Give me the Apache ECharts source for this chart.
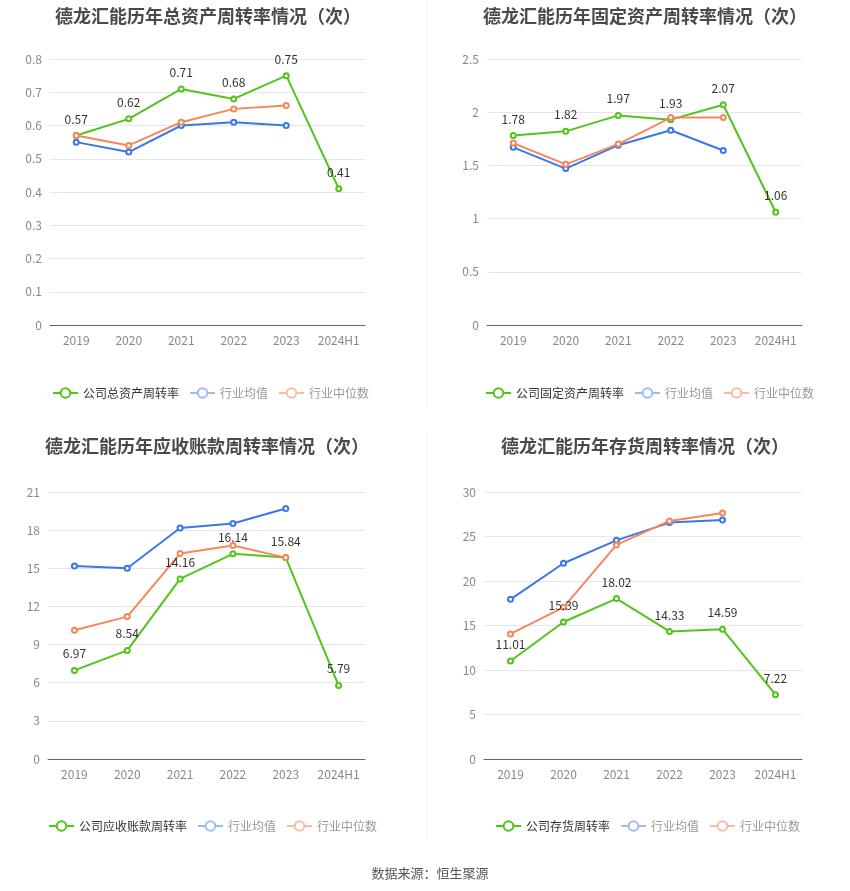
<!DOCTYPE html>
<html>
<head>
<meta charset="utf-8">
<script src="https://cdn.jsdelivr.net/npm/echarts@6/dist/echarts.min.js"></script>
<style>
  html, body { margin: 0; padding: 0; background: #fff; }
  #chart { width: 850px; height: 891px; }
</style>
</head>
<body>
<div id="chart"></div>
<script>
let years = ['2019', '2020', '2021', '2022', '2023', '2024H1']

// 总资产周转率
let totalAsset = [0.57, 0.62, 0.71, 0.68, 0.75, 0.41]
let totalAssetAvg = [0.55, 0.52, 0.60, 0.61, 0.60]
let totalAssetMed = [0.57, 0.54, 0.61, 0.65, 0.66]

// 固定资产周转率
let fixedAsset = [1.78, 1.82, 1.97, 1.93, 2.07, 1.06]
let fixedAssetAvg = [1.67, 1.47, 1.69, 1.83, 1.64]
let fixedAssetMed = [1.71, 1.51, 1.70, 1.95, 1.95]

// 应收账款周转率
let receivable = [6.97, 8.54, 14.16, 16.14, 15.84, 5.79]
let receivableAvg = [15.18, 15.0, 18.17, 18.52, 19.7]
let receivableMed = [10.12, 11.2, 16.16, 16.79, 15.84]

// 存货周转率
let inventory = [11.01, 15.39, 18.02, 14.33, 14.59, 7.22]
let inventoryAvg = [17.94, 21.99, 24.57, 26.56, 26.86]
let inventoryMed = [14.05, 17.04, 24.05, 26.75, 27.65]

let titles = [
  '德龙汇能历年总资产周转率情况（次）',
  '德龙汇能历年固定资产周转率情况（次）',
  '德龙汇能历年应收账款周转率情况（次）',
  '德龙汇能历年存货周转率情况（次）'
]
let companyNames = ['公司总资产周转率', '公司固定资产周转率', '公司应收账款周转率', '公司存货周转率']
let yMax = [0.8, 2.5, 21, 30]
let yStep = [0.1, 0.5, 3, 5]

let panels = [
  [totalAsset, totalAssetAvg, totalAssetMed],
  [fixedAsset, fixedAssetAvg, fixedAssetMed],
  [receivable, receivableAvg, receivableMed],
  [inventory, inventoryAvg, inventoryMed]
]

let green = '#52c41a'
let blue = '#3a78e7'
let orange = '#f7875b'

let grids = [
  { left: 50, top: 59, width: 315, height: 266 },
  { left: 487, top: 59, width: 315, height: 266 },
  { left: 48, top: 492, width: 317, height: 267 },
  { left: 484, top: 492, width: 318, height: 267 }
]
let titlePos = [
  { x: 203, y: 2 }, { x: 640, y: 2 },
  { x: 202, y: 432 }, { x: 640, y: 432 }
]
let legendPos = [
  { x: 47, y: 382 }, { x: 480, y: 382 },
  { x: 43, y: 815 }, { x: 490, y: 815 }
]

let chartElt = document.getElementById('chart')
let myChart = echarts.init(chartElt)

let option = {
  animation: false,
  textStyle: { fontFamily: '"Noto Sans CJK SC", "Noto Sans", sans-serif' },
  title: titles.map((t, i) => ({
    text: t,
    left: titlePos[i].x,
    top: titlePos[i].y,
    textAlign: 'center',
    textStyle: { fontSize: 18, fontWeight: 'bold', color: '#4a4a4a' }
  })).concat([{
    text: '数据来源：恒生聚源',
    left: 425,
    top: 862,
    textAlign: 'center',
    textStyle: { fontSize: 13, fontWeight: 'normal', color: '#555' }
  }]),
  legend: companyNames.map((n, i) => ({
    left: legendPos[i].x,
    top: legendPos[i].y,
    width: 400,
    orient: 'horizontal',
    itemWidth: 25,
    itemHeight: 12,
    itemGap: 10,
    textStyle: { fontSize: 12, color: '#999' },
    data: [
      { name: n, textStyle: { color: '#333' } },
      { name: '行业均值', itemStyle: { color: '#9dbcf5' }, lineStyle: { color: '#9dbcf5' } },
      { name: '行业中位数', itemStyle: { color: '#f9bba4' }, lineStyle: { color: '#f9bba4' } }
    ]
  })),
  grid: grids,
  xAxis: grids.map((g, i) => ({
    type: 'category',
    gridIndex: i,
    data: years,
    boundaryGap: true,
    axisLine: { lineStyle: { color: '#666' } },
    axisTick: { alignWithLabel: true, lineStyle: { color: '#666' } },
    axisLabel: { color: '#888', fontSize: 12, margin: 9, interval: 0 }
  })),
  yAxis: grids.map((g, i) => ({
    type: 'value',
    gridIndex: i,
    min: 0,
    max: yMax[i],
    interval: yStep[i],
    axisLine: { show: false },
    axisTick: { show: false },
    axisLabel: { color: '#888', fontSize: 12, margin: 8 },
    splitLine: { lineStyle: { color: '#e3e7f3' } }
  })),
  series: [],
  graphic: [
    { type: 'line', shape: { x1: 427, y1: 0, x2: 427, y2: 407 }, style: { stroke: '#eee', lineWidth: 1 } },
    { type: 'line', shape: { x1: 427, y1: 432, x2: 427, y2: 840 }, style: { stroke: '#eee', lineWidth: 1 } }
  ]
}

panels.forEach((p, i) => {
  let base = {
    type: 'line',
    xAxisIndex: i,
    yAxisIndex: i,
    symbol: 'emptyCircle',
    symbolSize: 5,
    lineStyle: { width: 2 }
  }
  option.series.push(Object.assign({}, base, {
    name: companyNames[i],
    data: p[0],
    z: 3,
    itemStyle: { color: green },
    lineStyle: { width: 2, color: green },
    label: { show: true, position: 'top', color: '#333', fontSize: 12, distance: 7 }
  }))
  option.series.push(Object.assign({}, base, {
    name: '行业均值',
    data: p[1],
    itemStyle: { color: blue },
    lineStyle: { width: 2, color: blue }
  }))
  option.series.push(Object.assign({}, base, {
    name: '行业中位数',
    data: p[2],
    itemStyle: { color: orange },
    lineStyle: { width: 2, color: orange }
  }))
})

myChart.setOption(option)
</script>
</body>
</html>
